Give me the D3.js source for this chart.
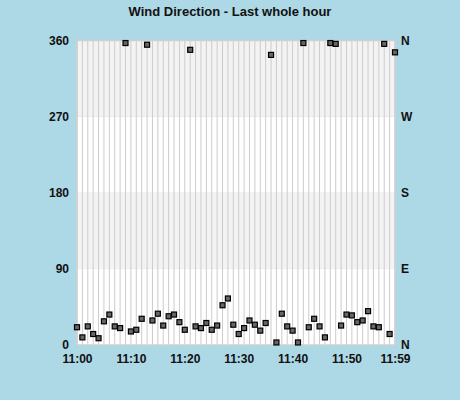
<!DOCTYPE html>
<html>
<head>
<meta charset="utf-8">
<script src="https://cdn.jsdelivr.net/npm/d3@7"></script>
<style>
  html, body { margin: 0; padding: 0; background: #add8e6; }
  svg { display: block; }
  text { font-family: "Liberation Sans", Arial, sans-serif; font-weight: bold; fill: #111; }
</style>
</head>
<body>
<svg id="chart" width="460" height="400"></svg>
<script>
const title = "Wind Direction - Last whole hour";
const minutes = d3.range(0, 60);
const directions = [21, 9, 22, 13, 8, 28, 36, 22, 20, 357,
                    16, 18, 31, 355, 29, 37, 23, 34, 36, 27,
                    18, 349, 22, 20, 26, 18, 23, 47, 55, 24,
                    13, 20, 29, 24, 17, 26, 343, 3, 37, 22,
                    17, 3, 357, 21, 31, 22, 9, 357, 356, 23,
                    36, 35, 27, 29, 40, 22, 21, 356, 13, 346];
const xTickMinutes = [0, 10, 20, 30, 40, 50, 59];
const xTickLabels = ["11:00", "11:10", "11:20", "11:30", "11:40", "11:50", "11:59"];
const yTicks = [0, 90, 180, 270, 360];
const compassLabels = ["N", "E", "S", "W", "N"];
const bands = [[0, 90], [90, 180], [180, 270], [270, 360]];

const svg = d3.select("#chart");
const L = 77, R = 395, T = 40.5, B = 345;
const x = d3.scaleLinear().domain([0, 59]).range([L, R]);
const y = d3.scaleLinear().domain([0, 360]).range([B, T]);

svg.append("text").attr("x", 230).attr("y", 16).attr("text-anchor", "middle")
  .attr("font-size", 13).text(title);

// bands
svg.append("g").selectAll("rect").data(bands).join("rect")
  .attr("x", L).attr("width", R - L)
  .attr("y", d => y(d[1])).attr("height", d => y(d[0]) - y(d[1]))
  .attr("fill", (d, i) => i % 2 ? "#f3f3f3" : "#ffffff");

// vertical grid
svg.append("g").selectAll("line").data(minutes).join("line")
  .attr("x1", d => x(d)).attr("x2", d => x(d))
  .attr("y1", T).attr("y2", B)
  .attr("stroke", "#cccccc").attr("stroke-width", 1);

// border
svg.append("rect").attr("x", L).attr("y", T).attr("width", R - L).attr("height", B - T)
  .attr("fill", "none").attr("stroke", "#d0d0d0").attr("stroke-width", 1.5);

function styleText(g) {
  g.select(".domain").remove();
  g.selectAll("text").attr("font-size", 12)
    .style("font-family", "Liberation Sans, Arial, sans-serif")
    .style("font-weight", "bold").attr("fill", "#111");
}

// left axis
const leftAxis = d3.axisLeft(y).tickValues(yTicks).tickSize(0).tickPadding(8);
svg.append("g").attr("transform", `translate(${L},0)`).call(leftAxis).call(styleText);

// right axis
const rightAxis = d3.axisRight(y).tickValues(yTicks).tickSize(0).tickPadding(6)
  .tickFormat((d, i) => compassLabels[i]);
svg.append("g").attr("transform", `translate(${R},0)`).call(rightAxis).call(styleText);

// bottom axis
const bottomAxis = d3.axisBottom(x).tickValues(xTickMinutes).tickSize(0).tickPadding(9)
  .tickFormat((d, i) => xTickLabels[i]);
svg.append("g").attr("transform", `translate(0,${B})`).call(bottomAxis).call(styleText);

// points
const s = 5;
svg.append("g").selectAll("rect").data(minutes).join("rect")
  .attr("x", d => x(d) - s / 2).attr("y", (d, i) => y(directions[i]) - s / 2)
  .attr("width", s).attr("height", s)
  .attr("fill", "#666666").attr("stroke", "#000").attr("stroke-width", 1.2);
</script>
</body>
</html>
